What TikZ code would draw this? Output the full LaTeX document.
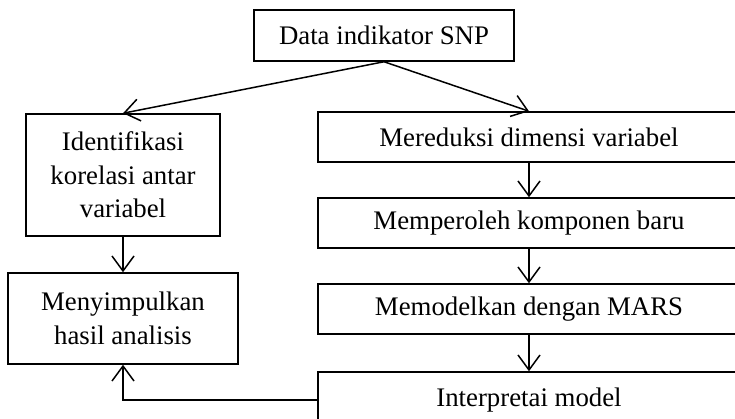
\documentclass[tikz,border=0pt]{standalone}
\usepackage{fontspec}
\setmainfont{Liberation Serif}
\usetikzlibrary{arrows.meta}
\begin{document}
\begin{tikzpicture}[x=1pt,y=-1pt,
  box/.style={draw, line width=1.5pt, inner sep=0pt, align=center,
    font=\fontsize{26.8}{33.5}\selectfont},
  wide/.style={box, minimum width=422pt, minimum height=50pt},
  flow/.style={line width=1.5pt, -{Straight Barb[length=15pt,width=22pt,line width=1.5pt]}}]
\clip (0,0) rectangle (735,419);
\useasboundingbox (0,0) rectangle (735,419);

\node[box, minimum width=260pt, minimum height=51pt] (data) at (384,35.5) {Data indikator SNP};

\node[box, minimum width=194pt, minimum height=122pt] (ident) at (123,175) {Identifikasi\\korelasi antar\\variabel};
\node[box, minimum width=230pt, minimum height=91pt] (simpul) at (123,318.5) {Menyimpulkan\\hasil analisis};

\node[wide] (reduksi) at (529,137) {Mereduksi dimensi variabel};
\node[wide] (komponen) at (529,223) {Memperoleh komponen baru};
\node[wide] (mars) at (529,309) {Memodelkan dengan MARS};
\node[wide, minimum height=56pt] (interp) at (529,400) {Interpretai model};

\draw[flow] (data.south) -- (ident.north);
\draw[flow] (data.south) -- (reduksi.north);
\draw[flow] (ident.south) -- (simpul.north);
\draw[flow] (reduksi.south) -- (komponen.north);
\draw[flow] (komponen.south) -- (mars.north);
\draw[flow] (mars.south) -- (interp.north);
\draw[flow] (interp.west) -| (simpul.south);
\end{tikzpicture}
\end{document}
